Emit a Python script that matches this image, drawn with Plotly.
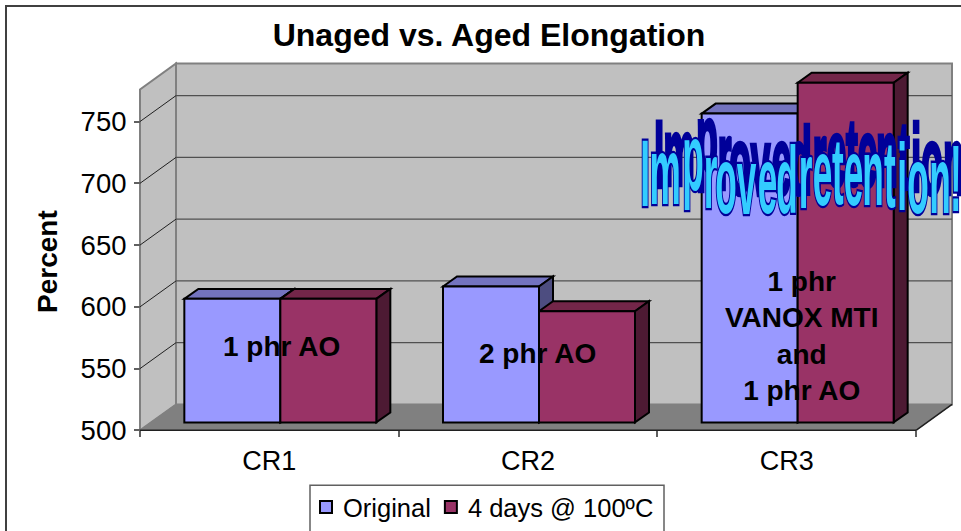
import plotly.graph_objects as go

# ---- data ----
categories = ["CR1", "CR2", "CR3"]
original = [600, 610, 750]
aged = [600, 590, 775]
series_names = ["Original", "4 days @ 100ºC"]
y_ticks = [500, 550, 600, 650, 700, 750]
notes = ["1 phr AO", "2 phr AO", "1 phr<br>VANOX MTI<br>and<br>1 phr AO"]
note_px = [(281, 348), (537, 355), (801, 337)]
wordart = list("Improvedretention!")
wordart_x = [645, 665, 693, 710, 726, 746, 767, 787, 805, 822, 838, 853, 873, 890, 902, 918, 940, 956]
wordart_base = [208, 206, 192, 210, 215, 216, 215, 215, 210, 207, 206, 207, 207, 209, 212, 215, 215, 213]

# ---- geometry ----
W, H = 961, 531
AX_L, AX_B = 140, 432
CAT_PX = 776 / 3
VAL_PX = 1.24
Y_MIN, Y_MAX = 500, 776
FONT = "Liberation Sans, Arial, sans-serif"

DX, DY = 36 / CAT_PX, 26 / VAL_PX      # depth of the whole box, axis units
BDX, BDY = 14 / CAT_PX, 10 / VAL_PX    # depth of a bar
SX, SY = (DX - BDX) / 2, (DY - BDY) / 2
BAR_W = 96 / CAT_PX
N = len(categories)

BLUE, BLUE_TOP, BLUE_SIDE = "#9999FF", "#7373BF", "#4D4D80"
RED, RED_TOP, RED_SIDE = "#993366", "#732649", "#4D1A33"


def path(pts):
    return "M" + "L".join(f"{x},{y}" for x, y in pts) + "Z"


shapes = []


def poly(pts, fill, line="rgba(0,0,0,0)", width=0):
    shapes.append(dict(type="path", xref="x", yref="y", layer="below", path=path(pts),
                       fillcolor=fill, line=dict(color=line, width=width)))


def seg(a, b, color, width=1):
    shapes.append(dict(type="line", xref="x", yref="y", layer="below", x0=a[0], y0=a[1], x1=b[0], y1=b[1],
                       line=dict(color=color, width=width)))


# walls and floor
poly([(DX, Y_MIN + DY), (DX, Y_MAX + DY), (N + DX, Y_MAX + DY), (N + DX, Y_MIN + DY)], "#C0C0C0", "#808080", 2)
poly([(0, Y_MIN), (0, Y_MAX), (DX, Y_MAX + DY), (DX, Y_MIN + DY)], "#C0C0C0", "#808080", 2)
poly([(0, Y_MIN), (DX, Y_MIN + DY), (N + DX, Y_MIN + DY), (N, Y_MIN)], "#808080", "#808080", 1)
for v in y_ticks[1:]:
    seg((0, v), (DX, v + DY), "#202020", 1)
    seg((DX, v + DY), (N + DX, v + DY), "#505050", 1.2)
seg((0, Y_MIN), (N, Y_MIN), "#202020", 1.5)
seg((N, Y_MIN), (N + DX, Y_MIN + DY), "#202020", 1.5)

# bar tops and sides (the fronts are real bar traces above these)
base = Y_MIN + SY
for i in range(N):
    c = i + 0.5 + SX
    for vals, x0, top, side in [(original, c - BAR_W, BLUE_TOP, BLUE_SIDE), (aged, c, RED_TOP, RED_SIDE)]:
        y = base + vals[i] - Y_MIN
        x1 = x0 + BAR_W
        poly([(x0, y), (x0 + BDX, y + BDY), (x1 + BDX, y + BDY), (x1, y)], top, "#000000", 2)
        poly([(x1, base), (x1, y), (x1 + BDX, y + BDY), (x1 + BDX, base + BDY)], side, "#000000", 2)

# chart frame and legend box
shapes.append(dict(type="path", xref="paper", yref="paper", layer="below",
                   path=path([(6 / W, -0.1), (6 / W, 1 - 6 / H), (1.1, 1 - 6 / H), (1.1, -0.1)]),
                   line=dict(color="#404040", width=2)))
shapes.append(dict(type="rect", xref="paper", yref="paper", x0=310 / W, x1=664 / W, y0=-0.1, y1=1 - 487 / H,
                   fillcolor="white", line=dict(color="#606060", width=1.5), layer="below"))

fig = go.Figure()
centres = [i + 0.5 + SX for i in range(N)]
for name, vals, colour, offs in [(series_names[0], original, BLUE, -BAR_W), (series_names[1], aged, RED, 0)]:
    fig.add_bar(name=name, x=centres, y=[v - Y_MIN for v in vals], base=base, width=BAR_W, offset=offs,
                marker=dict(color=colour, line=dict(color="#000000", width=2)))

annotations = []
for text, (px, py) in zip(notes, note_px):
    annotations.append(dict(text=text, xref="paper", yref="paper", x=px / W, y=1 - py / H, showarrow=False,
                            xanchor="center", yanchor="middle", font=dict(family=FONT, size=28, color="black", weight="bold")))
annotations.append(dict(text="Percent", xref="paper", yref="paper", x=47 / W, y=1 - 263 / H, textangle=-90, showarrow=False,
                        xanchor="center", yanchor="middle",
                        font=dict(family=FONT, size=28, color="black", weight="bold")))
n_plain = len(annotations)
WA_SIZE = 95
BASE_SHIFT = WA_SIZE * 0.36   # line-box centre to baseline
for ox, oy, colour in [(14, -19, "#000099"), (0, 0, "#33CCFF")]:
    for ch, px, py in zip(wordart, wordart_x, wordart_base):
        annotations.append(dict(text=ch, xref="paper", yref="paper", x=(px + ox) / W,
                                y=1 - (py + oy - BASE_SHIFT) / H, showarrow=False, xanchor="center", yanchor="middle",
                                font=dict(family=FONT, size=WA_SIZE, color=colour, weight="bold")))

fig.update_layout(
    width=W, height=H, margin=dict(l=0, r=0, t=0, b=0), paper_bgcolor="white", plot_bgcolor="white",
    barmode="overlay", shapes=shapes, annotations=annotations,
    title=dict(text="Unaged vs. Aged Elongation", x=489 / W, y=1 - 35 / H, xanchor="center", yanchor="middle",
               font=dict(family=FONT, size=32, color="black", weight="bold")),
    legend=dict(orientation="h", x=306 / W, y=1 - 486 / H, xanchor="left", yanchor="top", bgcolor="rgba(0,0,0,0)",
                borderwidth=0, font=dict(family=FONT, size=25.5, color="black"), itemwidth=30, traceorder="normal"),
    xaxis=dict(range=[-AX_L / CAT_PX, (W - AX_L) / CAT_PX], domain=[0, 1], anchor="free", position=1 - AX_B / H,
               tickvals=[i + 0.5 for i in range(N)], ticktext=categories, ticks="", showgrid=False, zeroline=False,
               showline=False, tickfont=dict(family=FONT, size=27, color="black"), ticklabelstandoff=12,
               minor=dict(tickvals=list(range(N + 1)), ticks="outside", ticklen=6, tickcolor="#606060", tickwidth=1.5, showgrid=False)),
    yaxis=dict(range=[Y_MIN - (H - AX_B) / VAL_PX, Y_MIN + AX_B / VAL_PX], domain=[0, 1], anchor="free", position=AX_L / W,
               tickvals=y_ticks, ticks="outside", ticklen=6, tickcolor="#606060", tickwidth=1.5, showgrid=False, zeroline=False,
               showline=False, tickfont=dict(family=FONT, size=27.5, color="black"), ticklabelstandoff=2),
)

post = """
document.body.style.margin = '0';
document.documentElement.style.overflow = 'hidden';
var XS = 0.37;
document.querySelectorAll('.annotation').forEach(function (a) {
  if (+a.getAttribute('data-index') < %d) return;
  var t = a.querySelector('text');
  t.style.transformBox = 'fill-box';
  t.style.transformOrigin = 'center';
  t.style.transform = 'scale(' + XS + ',1)';
  t.style.stroke = '#000099';
  t.style.strokeWidth = '3.5px';
  t.style.vectorEffect = 'non-scaling-stroke';
  t.style.paintOrder = 'stroke';
});
document.querySelectorAll('.legend .traces').forEach(function (g, i) {
  var txt = g.querySelector('.legendtext');
  txt.setAttribute('x', +txt.getAttribute('x') - 3);
  if (i === 1) {
    var m = /translate\\(([^,]+),\\s*([^)]+)\\)/.exec(g.getAttribute('transform'));
    g.setAttribute('transform', 'translate(' + (+m[1] - 8) + ',' + m[2] + ')');
  }
});
""" % n_plain

fig.write_html("out.html", post_script=post, config={"displayModeBar": False})
